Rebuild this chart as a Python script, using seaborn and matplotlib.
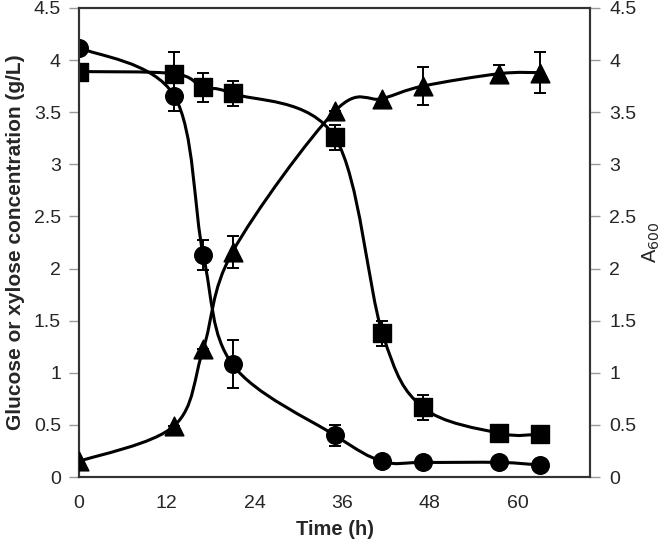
import numpy as np
import pandas as pd
import matplotlib
matplotlib.use("Agg")
import matplotlib.pyplot as plt
from matplotlib.path import Path
from matplotlib.patches import PathPatch
import seaborn as sns

# ---- data ----
time_h = [0, 13, 17, 21, 35, 41.5, 47, 57.5, 63]
glucose = [4.12, 3.66, 2.13, 1.08, 0.40, 0.15, 0.14, 0.14, 0.115]
glucose_err = [0, 0.15, 0.14, 0.23, 0.10, 0, 0, 0, 0]
xylose = [3.89, 3.87, 3.74, 3.68, 3.26, 1.38, 0.67, 0.42, 0.41]
xylose_err = [0, 0.21, 0.14, 0.12, 0.12, 0.12, 0.12, 0, 0]
a600 = [0.15, 0.49, 1.23, 2.16, 3.51, 3.63, 3.75, 3.87, 3.88]
a600_err = [0, 0, 0, 0.15, 0, 0, 0.18, 0.08, 0.20]
x_ticks = [0, 12, 24, 36, 48, 60]
y_ticks = [0, 0.5, 1, 1.5, 2, 2.5, 3, 3.5, 4, 4.5]

sns.set_style("white")
plt.rcParams['font.family'] = ['Liberation Sans', 'DejaVu Sans']

fig = plt.figure(figsize=(6.66, 5.44), dpi=100)
ax = fig.add_axes([79/666, 1-477/544, (590-79)/666, (477-8)/544])
ax2 = ax.twinx()


def smooth_path(ax, xs, ys):
    xs = np.asarray(xs, float); ys = np.asarray(ys, float)
    pts = np.column_stack([xs, ys])
    n = len(pts)
    verts = [pts[0]]
    codes = [Path.MOVETO]
    for i in range(n - 1):
        p0 = pts[i - 1] if i > 0 else pts[i]
        p1 = pts[i]
        p2 = pts[i + 1]
        p3 = pts[i + 2] if i + 2 < n else pts[i + 1]
        c1 = p1 + (p2 - p0) / 6.0
        c2 = p2 - (p3 - p1) / 6.0
        verts += [c1, c2, p2]
        codes += [Path.CURVE4] * 3
    patch = PathPatch(Path(verts, codes), facecolor='none', edgecolor='black',
                      lw=2.2, zorder=2, transform=ax.transData)
    ax.add_patch(patch)


df = pd.DataFrame({"t": time_h, "glc": glucose, "xyl": xylose, "a": a600})

for ys, err in [(glucose, glucose_err), (xylose, xylose_err)]:
    smooth_path(ax, time_h, ys)
    ax.errorbar(time_h, ys, yerr=err, fmt='none', ecolor='black', elinewidth=1.4,
                capsize=4, capthick=1.4, zorder=3)
sns.scatterplot(data=df, x="t", y="glc", marker='o', s=160, color='black',
                edgecolor='black', ax=ax, zorder=4)
sns.scatterplot(data=df, x="t", y="xyl", marker='s', s=150, color='black',
                edgecolor='black', ax=ax, zorder=4)

smooth_path(ax2, time_h, a600)
ax2.errorbar(time_h, a600, yerr=a600_err, fmt='none', ecolor='black', elinewidth=1.4,
             capsize=4, capthick=1.4, zorder=3)
sns.scatterplot(data=df, x="t", y="a", marker='^', s=180, color='black',
                edgecolor='black', ax=ax2, zorder=4)

for a in (ax, ax2):
    a.set_xlim(0, 69.9)
    a.set_ylim(0, 4.5)
    a.set_yticks(y_ticks)
    a.set_yticklabels([f"{v:g}" for v in y_ticks], fontsize=14)
    for s in a.spines.values():
        s.set_color('#333333')
        s.set_linewidth(1.5)

ax.set_xticks(x_ticks)
ax.set_xticklabels([str(v) for v in x_ticks], fontsize=14)
ax.tick_params(axis='x', direction='inout', length=12, width=1, color='#999999', pad=7)
ax.tick_params(axis='y', direction='out', length=7, width=1, color='#999999', pad=6, left=True)
ax2.tick_params(axis='y', direction='out', length=7, width=1, color='#999999', pad=7, right=True)

ax.set_xlabel("Time (h)", fontsize=14.5, fontweight='bold', labelpad=6)
ax.set_ylabel("Glucose or xylose concentration (g/L)", fontsize=15, fontweight='bold', labelpad=6)
ax2.set_ylabel("A$_{600}$", fontsize=14.5, labelpad=3, rotation=90)

fig.savefig("out.png", dpi=100)
